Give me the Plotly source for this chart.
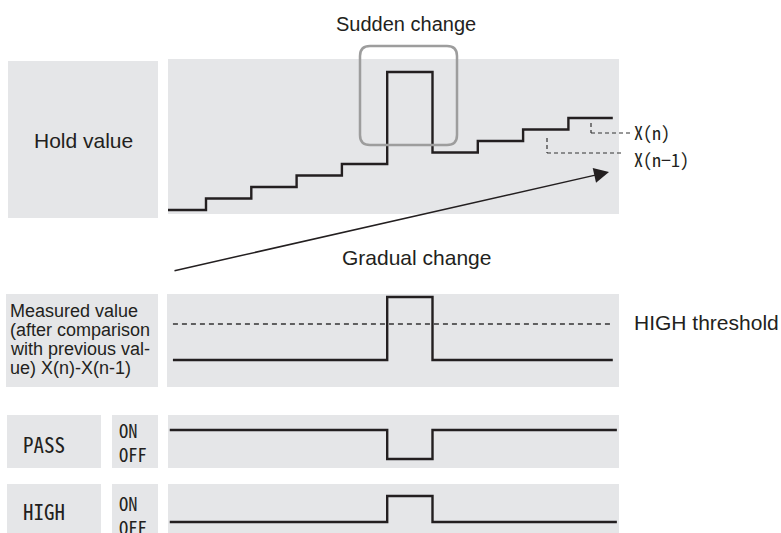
import plotly.graph_objects as go

# ---------------- data ----------------
STEP_TIMES = [1, 2, 3, 4, 5, 6, 7, 8, 9]            # sampling edges
HOLD_VALUES = [0, 1, 2, 3, 4, 12, 5, 6, 7, 8]        # hold value per interval
MEASURED = [1, 1, 1, 1, 1, 8, 1, 1, 1, 1]            # X(n)-X(n-1) (clipped)
HIGH_THRESHOLD = 5
PASS_STATE = [1, 1, 1, 1, 1, 0, 1, 1, 1, 1]          # 1 = ON, 0 = OFF
HIGH_STATE = [0, 0, 0, 0, 0, 1, 0, 0, 0, 0]
HOLD_SPAN = (0.16, 9.98)
MEAS_SPAN = (0.27, 9.98)
OUT_SPAN = (0.2, 10.07)

W, H = 781, 533
INK = "#231f20"
PANEL = "#e5e6e8"
SANS = "Liberation Sans, Arial, Helvetica, sans-serif"
COND = "Noto Sans Mono CJK JP, DejaVu Sans Condensed, DejaVu Sans Mono, monospace"


def P(x):
    return x / W


def Q(y):
    return 1 - y / H


# time axis mapping: t = (px - 160.7) / 45.3
T0, TS = 160.7, 45.3


def xr(px0, px1):
    return [(px0 - T0) / TS, (px1 - T0) / TS]


def yr(py_top, py_bot, base_px, scale):
    return [(base_px - py_bot) / scale, (base_px - py_top) / scale]


def steps(values, span):
    xs = [span[0]] + STEP_TIMES + [span[1]]
    ys = list(values) + [values[-1]]
    return xs, ys


fig = go.Figure()

line = dict(color=INK, width=2.4, shape="hv")

x, y = steps(HOLD_VALUES, HOLD_SPAN)
fig.add_trace(go.Scatter(x=x, y=y, mode="lines", line=line, xaxis="x", yaxis="y", hoverinfo="skip"))

x, y = steps(MEASURED, MEAS_SPAN)
fig.add_trace(go.Scatter(x=x, y=y, mode="lines", line=line, xaxis="x2", yaxis="y2", hoverinfo="skip"))
fig.add_trace(go.Scatter(x=list(MEAS_SPAN), y=[HIGH_THRESHOLD, HIGH_THRESHOLD], mode="lines",
                         line=dict(color="#333333", width=1.3, dash="5px,4px"),
                         xaxis="x2", yaxis="y2", hoverinfo="skip"))

x, y = steps(PASS_STATE, OUT_SPAN)
fig.add_trace(go.Scatter(x=x, y=y, mode="lines", line=line, xaxis="x3", yaxis="y3", hoverinfo="skip"))

x, y = steps(HIGH_STATE, OUT_SPAN)
fig.add_trace(go.Scatter(x=x, y=y, mode="lines", line=line, xaxis="x4", yaxis="y4", hoverinfo="skip"))

ax_common = dict(showgrid=False, zeroline=False, showticklabels=False, ticks="", showline=False, fixedrange=True)

fig.update_layout(
    width=W, height=H, margin=dict(l=0, r=0, t=0, b=0),
    paper_bgcolor="white", plot_bgcolor=PANEL, showlegend=False,
    xaxis=dict(domain=[P(168), P(619)], range=xr(168, 619), anchor="y", **ax_common),
    yaxis=dict(domain=[Q(214), Q(59)], range=yr(59, 214, 210, 11.5), anchor="x", **ax_common),
    xaxis2=dict(domain=[P(167), P(619)], range=xr(167, 619), anchor="y2", **ax_common),
    yaxis2=dict(domain=[Q(387), Q(294)], range=yr(294, 387, 369, 9.0), anchor="x2", **ax_common),
    xaxis3=dict(domain=[P(168), P(619)], range=xr(168, 619), anchor="y3", **ax_common),
    yaxis3=dict(domain=[Q(468), Q(415)], range=yr(415, 468, 459, 29), anchor="x3", **ax_common),
    xaxis4=dict(domain=[P(168), P(619)], range=xr(168, 619), anchor="y4", **ax_common),
    yaxis4=dict(domain=[0, Q(484)], range=yr(484, 533, 522, 26), anchor="x4", **ax_common),
)

shapes = []


def box(x0, y0, x1, y1):
    shapes.append(dict(type="rect", xref="paper", yref="paper", x0=P(x0), x1=P(x1), y0=Q(y1), y1=Q(y0),
                       fillcolor=PANEL, line=dict(width=0), layer="below"))


box(8, 61, 158, 218)
box(6, 294, 158, 387)
box(7, 415, 101, 468)
box(112, 415, 158, 468)
box(7, 484, 101, 545)
box(112, 484, 158, 545)


def seg(x0, y0, x1, y1, color="#333333", width=1.2, dash="4px,3px"):
    shapes.append(dict(type="line", xref="paper", yref="paper", x0=P(x0), y0=Q(y0), x1=P(x1), y1=Q(y1),
                       line=dict(color=color, width=width, dash=dash)))


# leader lines for X(n) and X(n-1)
seg(591, 123, 591, 133)
seg(591, 133, 630, 133)
seg(547, 138, 547, 153)
seg(547, 153, 622, 153)

# rounded rectangle around sudden change
x0, y0, x1, y1, r = 360, 46, 457, 145, 10
pts = [
    ("M", x0 + r, y0), ("L", x1 - r, y0), ("Q", x1, y0, x1, y0 + r),
    ("L", x1, y1 - r), ("Q", x1, y1, x1 - r, y1), ("L", x0 + r, y1),
    ("Q", x0, y1, x0, y1 - r), ("L", x0, y0 + r), ("Q", x0, y0, x0 + r, y0),
]
path = ""
for p in pts:
    cmd = p[0]
    coords = p[1:]
    s = []
    for i in range(0, len(coords), 2):
        s.append(f"{P(coords[i]):.5f},{Q(coords[i+1]):.5f}")
    path += cmd + " ".join(s) + " "
path += "Z"
shapes.append(dict(type="path", xref="paper", yref="paper", path=path,
                   line=dict(color="#9d9d9d", width=2.5), fillcolor="rgba(0,0,0,0)"))

fig.update_layout(shapes=shapes)

ann = []


def text(t, x, y, size, font=SANS, xanchor="center", align="center"):
    ann.append(dict(text=t, x=P(x), y=Q(y), xref="paper", yref="paper", showarrow=False,
                    xanchor=xanchor, yanchor="middle", align=align,
                    font=dict(family=font, size=size, color=INK)))


text("Sudden change", 406, 24, 20)
text("Hold value", 83, 140, 21)
text("Gradual change", 416, 257, 21)
text("HIGH threshold", 632, 322, 21, xanchor="left")
text("X(n)", 632, 132, 18, font=COND, xanchor="left")
text("X(n−1)", 632, 159, 18, font=COND, xanchor="left")
for t, yy in zip(["Measured value", "(after comparison", "with previous val-", "ue) X(n)-X(n-1)"],
                 [311, 330, 349, 368]):
    text(t, 8, yy, 18, xanchor="left")
text("PASS", 44, 444, 21, font=COND)
text("HIGH", 44, 511, 21, font=COND)
text("ON<br>OFF", 117, 442, 18.5, font=COND, xanchor="left", align="left")
text("ON<br>OFF", 117, 515, 18.5, font=COND, xanchor="left", align="left")

# gradual change arrow
ann.append(dict(text="", x=P(609), y=Q(172), xref="paper", yref="paper", showarrow=True,
                ax=173 - 609, ay=271 - 172, arrowhead=2, arrowsize=2.0, arrowwidth=1.5,
                arrowcolor=INK, standoff=0, startstandoff=0))

fig.update_layout(annotations=ann)

fig.write_html("out.html", config={"displayModeBar": False},
               post_script="document.body.style.margin='0';document.body.style.overflow='hidden';")
